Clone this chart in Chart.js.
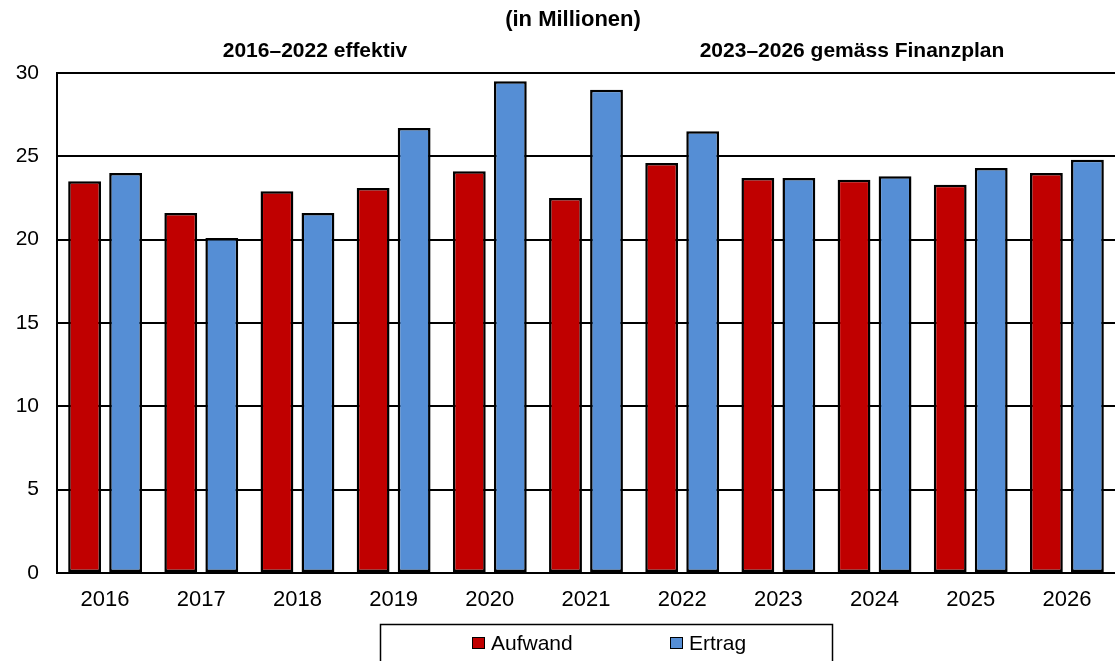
<!DOCTYPE html>
<html>
<head>
<meta charset="utf-8">
<script src="https://cdn.jsdelivr.net/npm/chart.js@4/dist/chart.umd.min.js"></script>
<style>
  html, body { margin: 0; padding: 0; background: #ffffff; }
  #wrap { width: 1115px; height: 661px; position: relative; }
</style>
</head>
<body>
<div id="wrap"><canvas id="c"></canvas></div>
<script>
const years = ['2016','2017','2018','2019','2020','2021','2022','2023','2024','2025','2026'];
const aufwand = [23.5, 21.6, 22.9, 23.1, 24.1, 22.5, 24.6, 23.7, 23.6, 23.3, 24.0];
const ertrag  = [24.0, 20.1, 21.6, 26.7, 29.5, 29.0, 26.5, 23.7, 23.8, 24.3, 24.8];
const seriesNames = ['Aufwand', 'Ertrag'];
const headerUnit = '(in Millionen)';
const headerLeft = '2016\u20132022 effektiv';
const headerRight = '2023\u20132026 gemäss Finanzplan';

const FONT = '"Liberation Sans", Arial, sans-serif';

const headerPlugin = {
  id: 'headerTexts',
  afterDraw(chart) {
    const ctx = chart.ctx;
    ctx.save();
    ctx.fillStyle = '#000';
    ctx.textAlign = 'center';
    ctx.textBaseline = 'alphabetic';
    ctx.font = 'bold 22px ' + FONT;
    ctx.fillText(headerUnit, 573, 26);
    ctx.font = 'bold 21px ' + FONT;
    ctx.fillText(headerLeft, 315, 57);
    ctx.fillText(headerRight, 852, 57);
    ctx.restore();
  }
};

const legendPlugin = {
  id: 'boxLegend',
  afterDraw(chart) {
    const ctx = chart.ctx;
    ctx.save();
    ctx.strokeStyle = '#000';
    ctx.lineWidth = 1.5;
    ctx.strokeRect(380.5, 624.5, 452, 60);
    const pos = [472, 670];
    ctx.font = '21px ' + FONT;
    ctx.textBaseline = 'middle';
    ctx.textAlign = 'left';
    chart.data.datasets.forEach((ds, i) => {
      const x = pos[i];
      ctx.fillStyle = ds.backgroundColor;
      ctx.fillRect(x, 637, 13, 12);
      ctx.strokeStyle = '#000';
      ctx.lineWidth = 1;
      ctx.strokeRect(x + 0.5, 637.5, 12, 11);
      ctx.fillStyle = '#000';
      ctx.fillText(ds.label, x + 19, 644);
    });
    ctx.restore();
  }
};

new Chart(document.getElementById('c'), {
  type: 'bar',
  data: {
    labels: years,
    datasets: [
      { label: seriesNames[0], data: aufwand, backgroundColor: '#C00000', borderColor: '#000', borderWidth: 2.5, borderSkipped: false },
      { label: seriesNames[1], data: ertrag, backgroundColor: '#558ED5', borderColor: '#000', borderWidth: 2.5, borderSkipped: false }
    ]
  },
  options: {
    responsive: true,
    maintainAspectRatio: false,
    animation: false,
    devicePixelRatio: 1,
    layout: { padding: { top: 73, right: 0, bottom: 0, left: 0 } },
    datasets: { bar: { categoryPercentage: 0.853, barPercentage: 0.8 } },
    plugins: {
      legend: { display: false },
      title: { display: false },
      tooltip: { enabled: false }
    },
    scales: {
      x: {
        grid: { display: false, drawTicks: false },
        border: { display: true, color: '#000', width: 2 },
        ticks: { color: '#000', font: { family: FONT, size: 22 }, padding: 14, maxRotation: 0 },
        afterFit(scale) { scale.height = 88; }
      },
      y: {
        min: 0, max: 30,
        grid: { color: '#000', lineWidth: 2, drawTicks: false },
        border: { display: true, color: '#000', width: 2 },
        ticks: { stepSize: 5, color: '#000', font: { family: FONT, size: 21 }, padding: 18 },
        afterFit(scale) { scale.width = 57; }
      }
    }
  },
  plugins: [headerPlugin, legendPlugin]
});
</script>
</body>
</html>
